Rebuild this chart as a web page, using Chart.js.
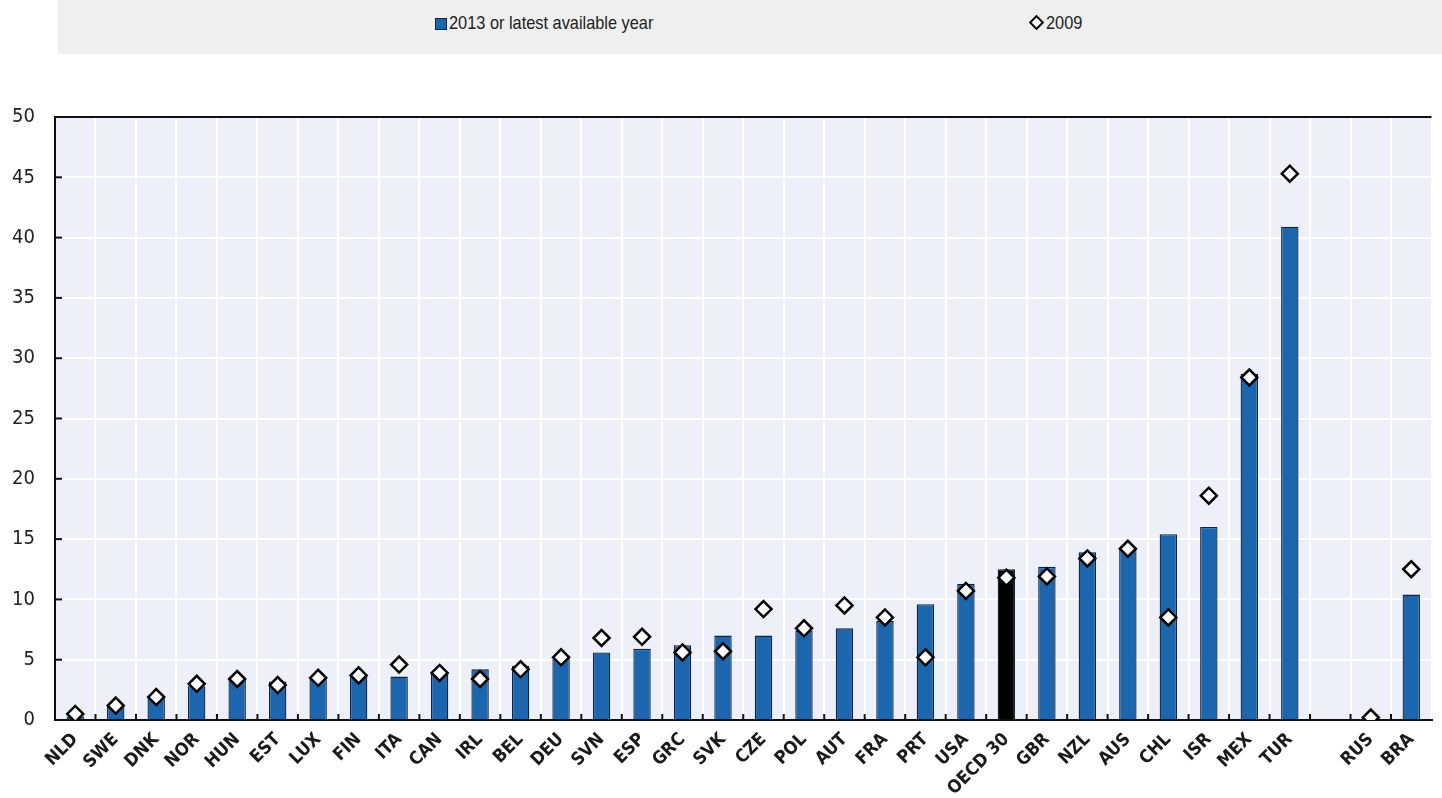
<!DOCTYPE html>
<html>
<head>
<meta charset="utf-8">
<script src="https://cdn.jsdelivr.net/npm/chart.js@4.4.1/dist/chart.umd.min.js"></script>
<style>
  html, body { margin: 0; padding: 0; background: #ffffff; }
  #wrap { position: relative; width: 1442px; height: 798px; overflow: hidden; }
  #legend { position: absolute; left: 58px; top: 0; width: 1384px; height: 54px; background: #efefef;
            font-family: 'Liberation Sans', Arial, sans-serif; font-size: 19px; color: #222; }
  .item { position: absolute; top: 13px; white-space: nowrap; line-height: 20px; }
  .t { display: inline-block; transform: scaleX(0.86); transform-origin: left center; }
  .sq { display: inline-block; width: 10px; height: 10px; background: #1b66ae; border: 1px solid #0b2240; vertical-align: -1px; margin-right: 2px; }
  .dm { display: inline-block; width: 7px; height: 7px; background: #fff; border: 2px solid #000; transform: rotate(45deg); vertical-align: 1px; margin-right: 4px; margin-left: 2px; }
  #c { position: absolute; left: 0; top: 0; }
</style>
</head>
<body>
<div id="wrap">
  <canvas id="c" width="1442" height="798"></canvas>
  <div id="legend">
    <div class="item" style="left:377px"><span class="sq"></span><span class="t">2013 or latest available year</span></div>
    <div class="item" style="left:971px"><span class="dm"></span><span class="t">2009</span></div>
  </div>
</div>
<script>
const categories = ['NLD','SWE','DNK','NOR','HUN','EST','LUX','FIN','ITA','CAN','IRL','BEL','DEU','SVN','ESP','GRC','SVK','CZE','POL','AUT','FRA','PRT','USA','OECD 30','GBR','NZL','AUS','CHL','ISR','MEX','TUR','','RUS','BRA'];
const values2013 = [0.3,1.2,1.8,2.8,3.5,3.2,3.5,3.6,3.6,4.0,4.2,4.5,5.1,5.6,5.9,6.2,7.0,7.0,7.4,7.6,8.2,9.6,11.3,12.5,12.7,13.9,14.2,15.4,16.0,28.7,40.9,null,null,10.4];
const values2009 = [0.5,1.2,1.9,3.0,3.4,2.9,3.5,3.7,4.6,3.9,3.4,4.2,5.2,6.8,6.9,5.6,5.7,9.2,7.6,9.5,8.5,5.2,10.7,11.8,11.9,13.4,14.2,8.5,18.6,28.4,45.3,null,0.2,12.5];
const yTicks = [0,5,10,15,20,25,30,35,40,45,50];

const FONT = "'DejaVu Sans Condensed', 'DejaVu Sans', sans-serif";
const BLUE = '#1b66ae';

const decor = {
  id: 'decor',
  beforeDraw(chart) {
    const {ctx, chartArea: a} = chart;
    ctx.save();
    ctx.fillStyle = '#edf0f8';
    ctx.fillRect(a.left, a.top, a.right - a.left, a.bottom - a.top);
    ctx.restore();
  },
  afterDraw(chart) {
    const {ctx, chartArea: a, scales} = chart;
    ctx.save();
    ctx.strokeStyle = '#111';
    ctx.lineWidth = 2;
    ctx.beginPath();
    ctx.moveTo(a.left - 1, a.top);
    ctx.lineTo(a.right, a.top);
    ctx.stroke();
    scales.y.ticks.forEach(t => {
      if (t.value === 0 || t.value === 50) return;
      const y = scales.y.getPixelForValue(t.value);
      ctx.beginPath();
      ctx.moveTo(a.left, y);
      ctx.lineTo(a.left + 7, y);
      ctx.stroke();
    });
    const xs = scales.x;
    const n = categories.length;
    for (let i = 1; i < n; i++) {
      const x = (xs.getPixelForValue(i - 1) + xs.getPixelForValue(i)) / 2;
      ctx.beginPath();
      ctx.moveTo(x, a.bottom);
      ctx.lineTo(x, a.bottom - 6);
      ctx.stroke();
    }
    ctx.restore();
  }
};

new Chart(document.getElementById('c'), {
  type: 'bar',
  data: {
    labels: categories,
    datasets: [
      {
        type: 'line',
        label: '2009',
        data: values2009,
        showLine: false,
        pointStyle: 'rectRot',
        pointRadius: 8,
        pointHoverRadius: 8,
        pointBackgroundColor: '#ffffff',
        pointBorderColor: '#000000',
        pointBorderWidth: 2.5,
        order: 0
      },
      {
        label: '2013 or latest available year',
        data: values2013,
        backgroundColor: ctx => categories[ctx.dataIndex] === 'OECD 30' ? '#000000' : BLUE,
        borderColor: '#10233a',
        borderWidth: 1.3,
        barPercentage: 0.43,
        categoryPercentage: 1.0,
        order: 1
      }
    ]
  },
  options: {
    responsive: false,
    animation: false,
    layout: { padding: { top: 117, right: -5, left: 0, bottom: 0 } },
    plugins: { legend: { display: false }, tooltip: { enabled: false } },
    scales: {
      x: {
        offset: true,
        afterFit: s => { s.height = 78; },
        grid: { color: '#ffffff', lineWidth: 2, offset: true, drawTicks: false },
        border: { color: '#111', width: 2 },
        ticks: {
          color: '#1a1a1a',
          font: { family: FONT, size: 18, weight: 'bold' },
          minRotation: 45, maxRotation: 45, autoSkip: false, padding: 9
        }
      },
      y: {
        min: 0, max: 50,
        afterFit: s => { s.width = 55; },
        afterBuildTicks: s => { s.ticks = yTicks.map(v => ({ value: v })); },
        grid: { color: '#ffffff', lineWidth: 2, drawTicks: false },
        border: { color: '#111', width: 2 },
        ticks: { color: '#222', font: { family: FONT, size: 20 }, padding: 20 }
      }
    }
  },
  plugins: [decor]
});
</script>
</body>
</html>
